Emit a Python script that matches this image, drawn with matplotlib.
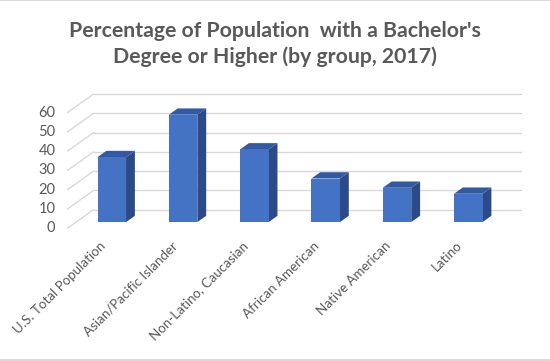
import matplotlib
matplotlib.use('Agg')
import matplotlib.pyplot as plt
from matplotlib.patches import Polygon

# Dane
groups = ['U.S. Total Population', 'Asian/Pacific Islander', 'Non-Latino, Caucasian',
          'African American', 'Native American', 'Latino']
pct = [33.7, 55.7, 37.7, 22.6, 17.8, 14.7]
yticks = [0, 10, 20, 30, 40, 50, 60]
title = "Percentage of Population  with a Bachelor's\nDegree or Higher (by group, 2017)"

# Kolory
front_c = '#4472C4'
top_c = '#3259A3'
side_c = '#2B4A87'
grid_c = '#D9D9D9'
text_c = '#595959'

plt.rcParams['font.family'] = ['Lato', 'DejaVu Sans']

fig = plt.figure(figsize=(5.5, 3.61), dpi=100)
ax = fig.add_axes([0, 0, 1, 1])
ax.set_xlim(-1.4474, 6.2665)
ax.set_ylim(-68.88, 118.36)
ax.axis('off')

# przesuniecie glebokosci (cala glebokosc sciany)
DX, DY = 0.3647, 9.595
d0, d1 = 0.33, 0.67
w = 0.4
x_left, x_right = -0.5, len(groups) - 0.5


def proj(x, v, d):
    return (x + d * DX, v + d * DY)


# siatka: tylna sciana i lewa sciana
for v in yticks:
    p0 = proj(x_left, v, 1)
    p1 = proj(x_right, v, 1)
    ax.plot([p0[0], p1[0]], [p0[1], p1[1]], color=grid_c, lw=1.0, zorder=1)
    q0 = proj(x_left, v, 0)
    ax.plot([q0[0], p0[0]], [q0[1], p0[1]], color=grid_c, lw=1.0, zorder=1)
    ax.text(q0[0] - 0.17, q0[1], str(v), ha='right', va='center',
            fontsize=10.5, color=text_c)

# slupki 3D
for i, v in enumerate(pct):
    xl, xr = i - w / 2, i + w / 2
    front = [proj(xl, 0, d0), proj(xr, 0, d0), proj(xr, v, d0), proj(xl, v, d0)]
    top = [proj(xl, v, d0), proj(xr, v, d0), proj(xr, v, d1), proj(xl, v, d1)]
    side = [proj(xr, 0, d0), proj(xr, 0, d1), proj(xr, v, d1), proj(xr, v, d0)]
    ax.add_patch(Polygon(side, closed=True, facecolor=side_c, edgecolor='none', zorder=3))
    ax.add_patch(Polygon(top, closed=True, facecolor=top_c, edgecolor='none', zorder=3))
    ax.add_patch(Polygon(front, closed=True, facecolor=front_c, edgecolor='none', zorder=4))

# etykiety osi X
for i, g in enumerate(groups):
    ax.text(i - 0.05, -5.8, g, rotation=45, ha='right', va='top',
            rotation_mode='anchor', fontsize=9.6, color=text_c)

# tytul
fig.text(0.5, 1 - 44 / 361, title, ha='center', va='center', fontsize=15.3,
         fontweight='bold', color=text_c, linespacing=1.3)

# ramka gora/dol
fig.add_artist(plt.Line2D([0, 1], [0.999, 0.999], color=grid_c, lw=1.5))
fig.add_artist(plt.Line2D([0, 1], [0.002, 0.002], color=grid_c, lw=1.5))

fig.savefig('out.png', dpi=100)
